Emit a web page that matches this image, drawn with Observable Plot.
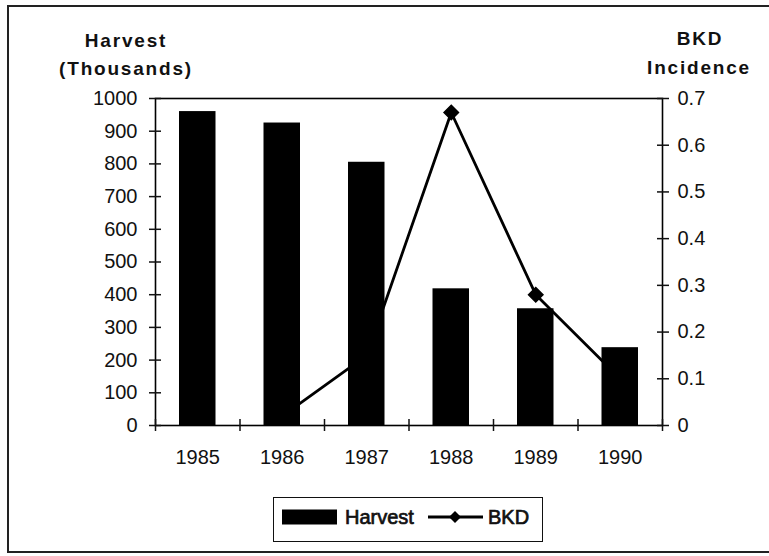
<!DOCTYPE html>
<html><head><meta charset="utf-8">
<script src="https://cdn.jsdelivr.net/npm/d3@7"></script>
<script src="https://cdn.jsdelivr.net/npm/@observablehq/plot@0.6"></script>
<style>
body{margin:0;background:#fff;overflow:hidden}
#wrap{position:relative;width:769px;height:556px;font-family:"Liberation Sans",Arial,sans-serif;color:#111;overflow:hidden}
#wrap svg.plot text{stroke:#111;stroke-width:0.7px}
.t{position:absolute;font-weight:bold;font-size:19px;line-height:20px;letter-spacing:1.8px;white-space:nowrap;transform:translateX(-50%)}
#border{position:absolute;left:7px;top:5px;width:1000px;height:548px;border:2px solid #222;box-sizing:border-box;pointer-events:none}
#legend{position:absolute;left:273px;top:497px;width:270px;height:45px;border:1.5px solid #111;box-sizing:border-box;background:#fff}
#legend text{font-size:20px;fill:#111;stroke:#111;stroke-width:0.7px}
</style></head>
<body><div id="wrap"></div>
<script>
const years = [1985, 1986, 1987, 1988, 1989, 1990];
const harvest = [960, 925, 805, 418, 357, 238];
const bkd = [null, 0.02, 0.15, 0.67, 0.28, 0.10];
const harvestTicks = [0, 100, 200, 300, 400, 500, 600, 700, 800, 900, 1000];
const bkdTicks = [0, 0.1, 0.2, 0.3, 0.4, 0.5, 0.6, 0.7];
const leftTitle = ["Harvest", "(Thousands)"];
const rightTitle = ["BKD", "Incidence"];
const legendLabels = ["Harvest", "BKD"];

const k = harvestTicks[harvestTicks.length - 1] / bkdTicks[bkdTicks.length - 1];
const data = years.map((year, i) => ({year, harvest: harvest[i], bkd: bkd[i]}));
const boundaries = [...years.map(y => y - 0.5), years[years.length - 1] + 0.5];

const chart = Plot.plot({
  width: 769, height: 556,
  marginLeft: 155, marginRight: 107, marginTop: 98, marginBottom: 131,
  style: {fontSize: "20px", fontFamily: '"Liberation Sans", Arial, sans-serif', color: "#111", background: "transparent"},
  x: {type: "linear", domain: [boundaries[0], boundaries[boundaries.length - 1]]},
  y: {domain: [0, harvestTicks[harvestTicks.length - 1]]},
  marks: [
    Plot.line(data, {x: "year", y: d => d.bkd == null ? NaN : d.bkd * k, stroke: "#000", strokeWidth: 2.8}),
    Plot.dot(data.filter(d => d.bkd != null), {x: "year", y: d => d.bkd * k, symbol: "diamond2", r: 6.5, fill: "#000", stroke: "#000"}),
    Plot.rectY(data, {x1: d => d.year - 0.5, x2: d => d.year + 0.5, y1: 0, y2: "harvest", insetLeft: 24, insetRight: 24, fill: "#000"}),
    Plot.frame({stroke: "#000", strokeWidth: 1.6}),
    Plot.axisY(harvestTicks, {anchor: "left", tickSize: 12, dx: 6, tickPadding: 12, strokeWidth: 1.5, label: null,
      tickFormat: d => String(d)}),
    Plot.axisY(bkdTicks.map(v => v * k), {anchor: "right", tickSize: 12, dx: -6, tickPadding: 9, strokeWidth: 1.5, label: null,
      tickFormat: d => d3.format(".1~f")(d / k)}),
    Plot.axisX(years, {anchor: "bottom", tickSize: 0, tickPadding: 24, tickFormat: d => String(d), label: null}),
    Plot.axisX(boundaries, {anchor: "bottom", tickSize: 12, dy: -6, strokeWidth: 1.5, tickFormat: () => "", label: null})
  ]
});
const wrap = document.getElementById("wrap");
chart.style.position = "absolute";
chart.style.left = "0px";
chart.style.top = "0px";
wrap.appendChild(chart);

function addTitle(text, cx, top) {
  const el = document.createElement("div");
  el.className = "t";
  el.textContent = text;
  el.style.left = cx + "px";
  el.style.top = top + "px";
  wrap.appendChild(el);
}
addTitle(leftTitle[0], 126, 31);
addTitle(leftTitle[1], 126, 59);
addTitle(rightTitle[0], 700, 29);
addTitle(rightTitle[1], 699, 58);

const border = document.createElement("div");
border.id = "border";
wrap.appendChild(border);

const legend = document.createElement("div");
legend.id = "legend";
legend.innerHTML = `<svg width="268" height="43" style="position:absolute;left:0;top:0">
  <rect x="8" y="11.5" width="55" height="15" fill="#000"></rect>
  <text x="71" y="26">${legendLabels[0]}</text>
  <line x1="154" x2="209" y1="19" y2="19" stroke="#000" stroke-width="2.8"></line>
  <path d="M181,13 L187,19 L181,25 L175,19 Z" fill="#000"></path>
  <text x="214" y="26">${legendLabels[1]}</text>
</svg>`;
wrap.appendChild(legend);
</script>
</body></html>
